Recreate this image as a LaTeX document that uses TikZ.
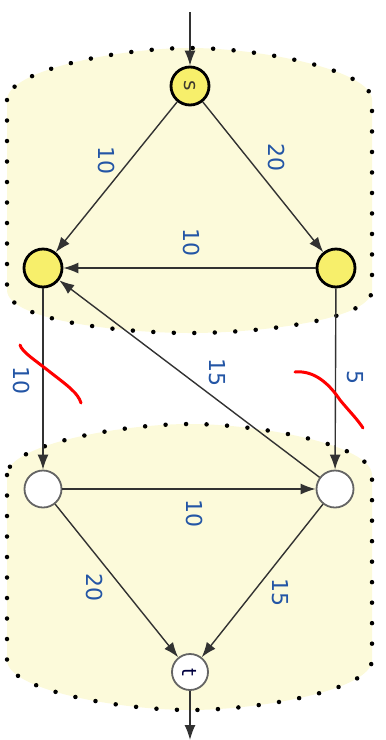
\documentclass[tikz,border=0pt]{standalone}
\usepackage{fontspec}
\setmainfont{DejaVu Sans}
\usetikzlibrary{arrows.meta}
\definecolor{blobfill}{RGB}{252,250,218}
\definecolor{nodeyellow}{RGB}{247,239,107}
\definecolor{lblblue}{RGB}{35,85,165}
\definecolor{edgegrey}{RGB}{50,50,50}
\definecolor{whiteborder}{RGB}{100,100,100}
\begin{document}
\begin{tikzpicture}[x=1pt,y=-1pt,
  blob/.style={fill=blobfill,draw=black,line width=4.5pt,line cap=round,dash pattern=on 0pt off 20.5pt},
  ynode/.style={circle,minimum size=38pt,inner sep=0pt,fill=nodeyellow,draw=black,line width=2.8pt,font=\fontsize{20}{20}\selectfont,text=black!75!olive},
  wnode/.style={circle,minimum size=37pt,inner sep=0pt,fill=white,draw=whiteborder,line width=1.8pt,font=\fontsize{20}{20}\selectfont,text=black!75!blue},
  edg/.style={draw=edgegrey,line width=1.4pt,-{Latex[length=15pt,width=11pt]}},
  lbl/.style={rotate=-90,text=lblblue,font=\fontsize{22}{22}\selectfont,inner sep=0pt},
  redmark/.style={draw=red,line width=3pt,line cap=round}]
\useasboundingbox (0,0) rectangle (386,740);
% blobs
\path[blob] (7,100) -- (7,290) .. controls (7,320) and (120,333) .. (190,333) .. controls (260,333) and (372,320) .. (372,290) -- (372,100) .. controls (372,70) and (260,48) .. (190,48) .. controls (120,48) and (7,70) .. (7,100) -- cycle;
\path[blob] (7,475) -- (7,660) .. controls (7,690) and (120,710) .. (190,710) .. controls (260,710) and (372,690) .. (372,660) -- (372,475) .. controls (372,445) and (260,424) .. (190,424) .. controls (120,424) and (7,445) .. (7,475) -- cycle;
% nodes
\node[ynode] (s) at (190,86) {\rotatebox{-90}{s}};
\node[ynode] (a) at (43,268) {};
\node[ynode] (b) at (336,268) {};
\node[wnode] (c) at (43,489) {};
\node[wnode] (d) at (335,489) {};
\node[wnode,minimum size=36pt] (t) at (190,672) {\rotatebox{-90}{t}};
\coordinate (in) at (190,12);
\coordinate (out) at (190,740);
% edges
\draw[edg] (in) -- (s);
\draw[edg] (s) -- (a);
\draw[edg] (s) -- (b);
\draw[edg] (b) -- (a);
\draw[edg] (a) -- (c);
\draw[edg] (b) -- (d);
\draw[edg] (d) -- (a);
\draw[edg] (c) -- (d);
\draw[edg] (c) -- (t);
\draw[edg] (d) -- (t);
\draw[edg] (t) -- (out);
% labels
\node[lbl] (l1) at (107,160) {10};
\node[lbl] (l2) at (277,157) {20};
\node[lbl] (l3) at (192,242) {10};
\node[lbl] (l4) at (22,380) {10};
\node[lbl] (l5) at (217,372) {15};
\node[lbl] (l6) at (355,377) {5};
\node[lbl] (l7) at (195,513) {10};
\node[lbl] (l8) at (95,587) {20};
\node[lbl] (l9) at (280,592) {15};
% red marks
\draw[redmark] (20,345) .. controls (22,352) and (35,360) .. (50,372) .. controls (68,386) and (78,393) .. (81,403);
\draw[redmark] (295,372) .. controls (315,370) and (330,385) .. (340,400) .. controls (350,412) and (358,420) .. (363,428);
\end{tikzpicture}
\end{document}
